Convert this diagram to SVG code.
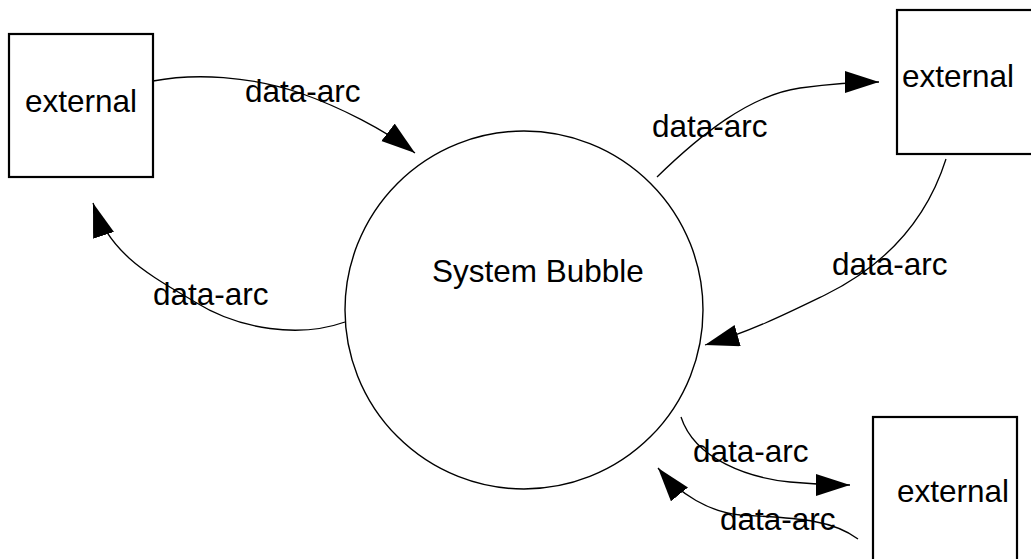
<svg xmlns="http://www.w3.org/2000/svg" width="1031" height="559" viewBox="0 0 1031 559">
<style>
.box{fill:#fff;stroke:#000;stroke-width:2.2}
.bub{fill:#fff;stroke:#000;stroke-width:1.4}
.arc{fill:none;stroke:#000;stroke-width:1.3;marker-end:url(#ah)}
text{font-family:"Liberation Sans",Arial,sans-serif;font-size:31.5px;fill:#000}
</style>
<defs>
<marker id="ah" markerUnits="userSpaceOnUse" markerWidth="36" markerHeight="24" refX="34" refY="11" orient="auto">
<path d="M0,0 L34,11 L0,22 Z" fill="#000"/>
</marker>
</defs>
<rect width="1031" height="559" fill="#fff"/>
<g id="bubble"><circle class="bub" cx="524" cy="310" r="179"/><text x="432" y="282">System Bubble</text></g>
<g id="ext1"><rect class="box" x="9" y="34" width="144" height="143"/><text x="25" y="112">external</text></g>
<g id="ext2"><rect class="box" x="897" y="10" width="145" height="144"/><text x="902" y="87">external</text></g>
<g id="ext3"><rect class="box" x="873" y="417" width="144" height="150"/><text x="897" y="502">external</text></g>
<g id="connectors">
<path class="arc" d="M153,81 C195,73 250,76 300,93 C340,107 385,130 415,153"/>
<path class="arc" d="M657,177 C700,135 750,95 800,88 C830,84 855,82 879,82"/>
<path class="arc" d="M946,159 C925,225 880,268 825,295 C790,312 750,332 705,345"/>
<path class="arc" d="M345,322 C300,338 240,330 195,302 C150,275 110,255 93,203"/>
<path class="arc" d="M681,417 C695,460 750,478 790,482 C810,484 830,485 850,485"/>
<path class="arc" d="M858,539 C830,518 790,518 740,515 C710,512 680,495 658,468"/>
</g>
<g id="labels">
<text x="245" y="102">data-arc</text>
<text x="652" y="137">data-arc</text>
<text x="832" y="275">data-arc</text>
<text x="153" y="305">data-arc</text>
<text x="693" y="462">data-arc</text>
<text x="720" y="530">data-arc</text>
</g>
</svg>
